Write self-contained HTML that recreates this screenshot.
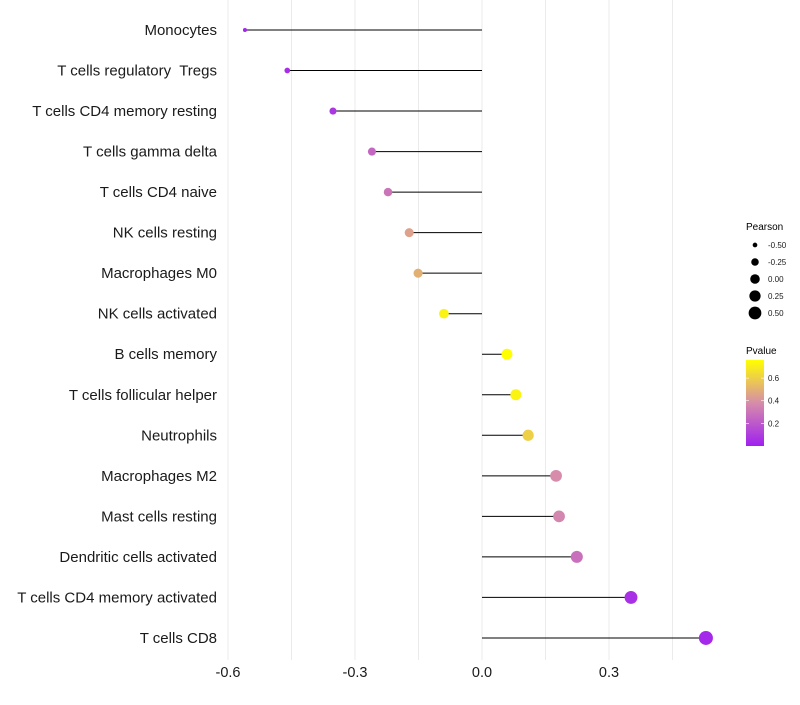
<!DOCTYPE html>
<html><head><meta charset="utf-8"><style>
body{margin:0;background:#fff;font-family:"Liberation Sans",sans-serif}
text{white-space:pre}
</style></head><body>
<svg id="c" width="800" height="700" xmlns="http://www.w3.org/2000/svg"></svg>
<script>
const categories=["Monocytes","T cells regulatory  Tregs","T cells CD4 memory resting","T cells gamma delta","T cells CD4 naive","NK cells resting","Macrophages M0","NK cells activated","B cells memory","T cells follicular helper","Neutrophils","Macrophages M2","Mast cells resting","Dendritic cells activated","T cells CD4 memory activated","T cells CD8"];
const pearson=[-0.56,-0.46,-0.352,-0.26,-0.222,-0.172,-0.151,-0.09,0.059,0.08,0.109,0.175,0.182,0.224,0.352,0.529];
const pvalue=[0.02,0.05,0.08,0.25,0.3,0.45,0.5,0.72,0.76,0.72,0.6,0.38,0.36,0.28,0.06,0.03];
const xTicks=[-0.6,-0.3,0.0,0.3];
const xTickLabels=["-0.6","-0.3","0.0","0.3"];
const sizeLegend=[-0.5,-0.25,0,0.25,0.5];
const sizeLegendLabels=["-0.50","-0.25","0.00","0.25","0.50"];
const pTicks=[0.2,0.4,0.6];
const NS="http://www.w3.org/2000/svg";
const svg=document.getElementById('c');
function X(v){return 482+v*423.3;}
function Y(i){return 30+i*40.53;}
function R(v){const t=(v+0.56)/1.089;return Math.sqrt(Math.max(1,4+t*45));}
function lerp(a,b,t){return a.map((x,i)=>Math.round(x+(b[i]-x)*t));}
function col(p){const t=Math.max(0,Math.min(1,p/0.76));
 const c0=[160,32,240],c1=[214,140,170],c2=[255,255,0];
 const c=t<0.5?lerp(c0,c1,t/0.5):lerp(c1,c2,(t-0.5)/0.5);return `rgb(${c})`;}
function PY(p){return 446-p*(86/0.76);}
function el(tag,attrs,parent){const e=document.createElementNS(NS,tag);for(const k in attrs)e.setAttribute(k,attrs[k]);(parent||svg).appendChild(e);return e;}
for(let v=-0.6;v<=0.46;v+=0.15){const g=el('line',{x1:X(v),x2:X(v),y1:0,y2:660,stroke:'#ebebeb','stroke-width':1});

}
xTicks.forEach((v,i)=>{const t=el('text',{x:X(v),y:677,'text-anchor':'middle','font-size':14.5,fill:'#1a1a1a'});t.textContent=xTickLabels[i];

});
categories.forEach((c,i)=>{
 const t=el('text',{x:217,y:Y(i)+5,'text-anchor':'end','font-size':15,fill:'#1a1a1a'});t.textContent=c;
 
 
 const l=el('line',{x1:X(0),x2:X(pearson[i]),y1:Y(i),y2:Y(i),stroke:'#000','stroke-width':1});
 
 
 const p=el('circle',{cx:X(pearson[i]),cy:Y(i),r:R(pearson[i]),fill:col(pvalue[i])});
 
 
});
const lt=el('text',{x:746,y:230,'font-size':10,fill:'#000'});lt.textContent='Pearson';


sizeLegend.forEach((v,i)=>{const y=245+i*17;
 const c=el('circle',{cx:755,cy:y,r:R(v)*0.92,fill:'#000'});
 
 
 const t=el('text',{x:768,y:y+3,'font-size':8,fill:'#1a1a1a'});t.textContent=sizeLegendLabels[i];
 
 });
const ct=el('text',{x:746,y:354,'font-size':10,fill:'#000'});ct.textContent='Pvalue';


const defs=el('defs',{});const gr=el('linearGradient',{id:'g',x1:0,y1:1,x2:0,y2:0},defs);
[0,0.25,0.5,0.75,1].forEach(t=>el('stop',{offset:t,'stop-color':col(t*0.76)},gr));
const bar=el('rect',{x:746,y:360,width:18,height:86,fill:'url(#g)'});


pTicks.forEach(p=>{const y=PY(p);
 el('line',{x1:746,x2:749,y1:y,y2:y,stroke:'#fff','stroke-width':0.6});
 el('line',{x1:761,x2:764,y1:y,y2:y,stroke:'#fff','stroke-width':0.6});
 const t=el('text',{x:768,y:y+3,'font-size':8,fill:'#1a1a1a'});t.textContent=p.toFixed(1);
 
 });
</script>
</body></html>
